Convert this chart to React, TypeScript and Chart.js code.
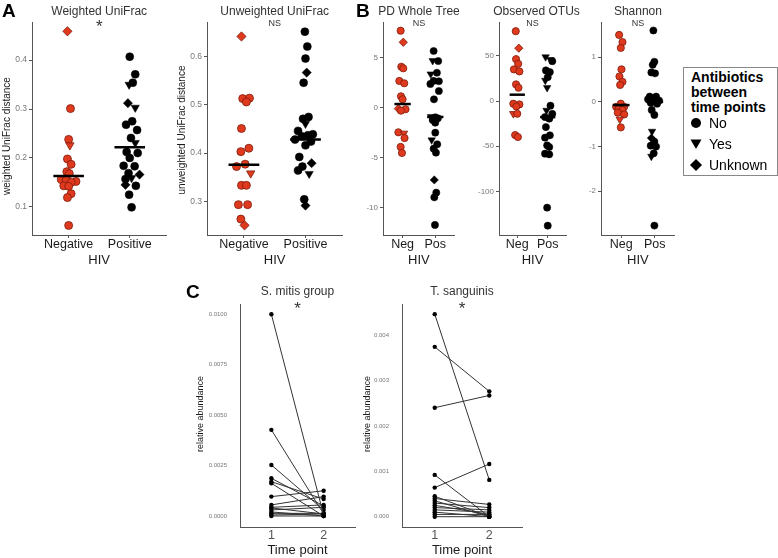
import React, { useEffect, useRef } from "react";
import { Chart, registerables } from "chart.js";
Chart.register(...registerables);

const FONT = "'Liberation Sans', Arial, Helvetica, sans-serif";
Chart.defaults.font.family = FONT;

// ---------- Panel A: Weighted UniFrac ----------
const wuNegVals = [0.459, 0.301, 0.238, 0.226, 0.198, 0.187, 0.172, 0.168, 0.156, 0.152, 0.155, 0.150, 0.143, 0.142, 0.127, 0.119, 0.062];
const wuNegJit = [-0.02, 0.03, 0, 0.02, -0.02, 0.04, -0.03, 0.01, -0.12, 0.12, -0.04, 0.04, -0.08, 0.0, 0.04, -0.02, 0];
const wuNegShape = "doovoooooooooooood";
const wuPosVals = [0.407, 0.371, 0.354, 0.350, 0.312, 0.303, 0.275, 0.268, 0.257, 0.241, 0.231, 0.212, 0.210, 0.200, 0.184, 0.183, 0.169, 0.166, 0.159, 0.157, 0.145, 0.143, 0.125, 0.099];
const wuPosJit = [0, 0.09, 0.05, -0.01, -0.03, 0.09, 0.04, -0.06, 0.12, 0.02, 0.09, -0.05, 0.13, 0, -0.1, 0.08, -0.02, 0.16, 0.03, -0.07, -0.07, 0.1, -0.01, 0.03];
const wuPosShape = "ooovdvoooovoooooodvodooo";
const wuMedians = [0.163, 0.222];
const wuTicks = [0.1, 0.2, 0.3, 0.4];

// ---------- Panel A: Unweighted UniFrac ----------
const uuNegVals = [0.642, 0.513, 0.514, 0.506, 0.451, 0.410, 0.403, 0.377, 0.372, 0.358, 0.333, 0.333, 0.293, 0.293, 0.263, 0.250];
const uuNegJit = [-0.04, -0.02, 0.09, 0.04, -0.04, 0.08, -0.05, 0.02, -0.12, 0.11, -0.04, 0.04, -0.09, 0.06, -0.05, 0.01];
const uuNegShape = "doooooooovooooodo";
const uuPosVals = [0.652, 0.621, 0.596, 0.567, 0.546, 0.475, 0.471, 0.461, 0.446, 0.439, 0.437, 0.435, 0.428, 0.424, 0.416, 0.392, 0.379, 0.372, 0.364, 0.357, 0.304, 0.291];
const uuPosJit = [-0.01, 0.03, 0, 0.02, -0.03, 0.05, -0.04, 0, -0.12, 0.12, 0.04, -0.06, -0.17, 0.09, 0, -0.1, 0.1, -0.05, -0.12, 0.06, -0.02, 0];
const uuPosShape = "ooodooovoooooooodoovodo";
const uuMedians = [0.376, 0.428];
const uuTicks = [0.3, 0.4, 0.5, 0.6];

// ---------- Panel B: PD Whole Tree ----------
const pdNegVals = [7.65, 6.5, 4.06, 3.9, 2.64, 2.41, 1.11, 0.81, -0.12, -0.18, -0.32, -2.48, -2.58, -3.05, -3.94, -4.54];
const pdNegJit = [-0.06, 0.02, -0.04, 0.02, -0.1, 0.05, -0.05, 0, -0.13, 0.09, -0.05, -0.13, 0.04, 0.06, -0.06, -0.02];
const pdNegShape = "odoooooodooovoooo";
const pdPosVals = [5.63, 4.66, 4.63, 3.46, 3.33, 2.64, 2.34, 2.61, 1.64, 0.81, -0.92, -0.98, -1.08, -1.25, -1.52, -2.52, -3.25, -3.67, -4.11, -4.51, -7.23, -8.5, -8.96, -11.72];
const pdPosJit = [-0.05, -0.08, 0.09, 0.05, -0.14, -0.05, -0.15, 0.11, 0.11, -0.04, -0.13, 0, 0.08, -0.08, 0, 0, -0.11, 0.06, -0.05, 0.02, -0.03, 0.03, -0.03, -0.01];
const pdPosShape = "ovoovooooovooooovooodoooo";
const pdMedians = [0.34, -0.95];
const pdTicks = [-10, -5, 0, 5];

// ---------- Panel B: Observed OTUs ----------
const otuNegVals = [77.4, 58.6, 46.5, 41.3, 35.1, 32.9, 18.5, 14.8, -2.9, -3.7, -5.9, -14, -14, -37.6, -39.8];
const otuNegJit = [-0.05, 0.05, -0.04, 0.03, -0.11, 0.07, -0.04, 0.04, -0.13, 0.07, -0.03, -0.13, 0, -0.07, 0.02];
const otuNegShape = "odooooooooovooo";
const otuPosVals = [48.9, 45.8, 44.2, 34, 32.1, 26.5, 22.9, 14.8, -5.1, -10.3, -14, -17.7, -19.5, -17.7, -28.8, -37.9, -40.5, -49, -50.9, -58.2, -59, -118, -138];
const otuPosJit = [-0.07, 0.09, 0.15, -0.06, 0.07, 0, -0.08, -0.02, 0.09, -0.04, 0.15, -0.09, 0.05, 0.12, -0.06, 0.07, -0.09, -0.02, 0.05, -0.09, 0.05, -0.02, 0];
const otuPosShape = "vvoooovvovooovooooooooo";
const otuMedians = [7.1, -17.7];
const otuTicks = [-100, -50, 0, 50];

// ---------- Panel B: Shannon ----------
const shNegVals = [1.50, 1.34, 1.21, 0.73, 0.57, 0.45, 0.38, -0.04, -0.11, -0.11, -0.16, -0.18, -0.24, -0.28, -0.39, -0.57];
const shNegJit = [-0.06, 0.04, -0.01, 0.01, -0.05, 0.04, -0.03, -0.01, -0.15, 0.09, -0.08, 0.04, -0.1, 0.09, -0.04, -0.01];
const shNegShape = "oooooooooooooovo";
const shPosVals = [1.60, 0.90, 0.83, 0.66, 0.64, 0.12, 0.12, 0.06, 0.04, 0.03, -0.02, -0.04, -0.18, -0.29, -0.66, -0.81, -0.89, -0.98, -1.00, -1.15, -1.22, -2.77];
const shPosJit = [-0.04, -0.01, -0.06, -0.1, 0.01, -0.15, 0.04, -0.2, -0.03, 0.13, -0.12, 0.07, -0.09, -0.01, -0.08, -0.1, -0.01, -0.12, 0.04, -0.03, -0.1, -0.01];
const shPosShape = "oooooooooooooovdoooovoo";
const shMedians = [-0.07, 0.0];
const shTicks = [-2, -1, 0, 1];

// ---------- Panel C: paired time points ----------
const mitisT1 = [0.0100, 0.00427, 0.00253, 0.00187, 0.0017, 0.00162, 0.00096, 0.00055, 0.00043, 0.0004, 0.0003, 0.0002, 0.00013, 0.00005, 0.0];
const mitisT2 = [0.00005, 0.0001, 0.0003, 0.0005, 0.00084, 0.0, 0.00125, 0.00096, 0.00055, 0.0001, 0.00043, 0.0, 0.00013, 0.0001, 0.0];
const mitisTicks = [0, 0.0025, 0.005, 0.0075, 0.01];
const sangT1 = [0.00446, 0.00374, 0.0024, 0.00092, 0.00064, 0.00045, 0.0004, 0.00035, 0.0003, 0.00025, 0.0002, 0.00015, 0.0001, 0.00005, 0.0];
const sangT2 = [0.00081, 0.00276, 0.00267, 0.0, 0.00116, 0.0, 0.00027, 0.0, 0.0002, 0.00005, 0.00015, 0.0001, 0.0, 0.00005, 0.0];
const sangTicks = [0, 0.001, 0.002, 0.003, 0.004];

const hivLong = ["Negative", "Positive"];
const hivShort = ["Neg", "Pos"];
const timeLabels = ["1", "2"];
const legendItems = ["No", "Yes", "Unknown"];

const RED = "#e03a1e";
const RED_EDGE = "#7e1a0b";
const AXIS = "#555555";

function groupSets(center: number, vals: number[], jit: number[], shapes: string, med: number, red: boolean, r: number) {
  const sh = shapes.split("").slice(0, vals.length);
  return [
    {
      data: [{ x: center - 0.25, y: med }, { x: center + 0.25, y: med }],
      showLine: true, borderColor: "#000", borderWidth: 2.5, pointRadius: 0, order: 0,
    },
    {
      data: vals.map((v, i) => ({ x: center + (jit[i] || 0), y: v })),
      pointStyle: sh.map((s) => (s === "v" ? "triangle" : s === "d" ? "rectRot" : "circle")),
      rotation: sh.map((s) => (s === "v" ? 180 : 0)),
      pointRadius: sh.map((s) => (s === "v" ? r * 1.2 : s === "d" ? r * 1.15 : r)),
      backgroundColor: red ? RED : "#000",
      borderColor: red ? RED_EDGE : "#000",
      borderWidth: red ? 0.8 : 0.5,
      order: 1,
    },
  ];
}

function pairSets(t1: number[], t2: number[]) {
  return t1.map((v, i) => ({
    data: [{ x: 1, y: v }, { x: 2, y: t2[i] }],
    showLine: true, borderColor: "#333", borderWidth: 1,
    pointRadius: 2.2, backgroundColor: "#000", pointBorderWidth: 0,
  }));
}

type Cfg = any;

function annot(cfg: Cfg) {
  return {
    id: "annot",
    afterDraw(chart: any) {
      const ctx = chart.ctx;
      const ca = chart.chartArea;
      const cx = (ca.left + ca.right) / 2;
      ctx.save();
      ctx.textAlign = "center";
      ctx.textBaseline = "middle";
      ctx.fillStyle = "#333";
      ctx.font = `${cfg.titleFont}px ${FONT}`;
      ctx.fillText(cfg.title, cx + (cfg.titleDx || 0), cfg.titleY - cfg.T);
      ctx.font = `${cfg.sigFont}px ${FONT}`;
      ctx.fillText(cfg.sig, cx, cfg.sigY - cfg.T);
      ctx.fillStyle = "#1a1a1a";
      ctx.font = `${cfg.xTitleFont}px ${FONT}`;
      ctx.fillText(cfg.xTitle, cx, cfg.xTitleY - cfg.T);
      if (cfg.yTitle) {
        ctx.translate(cfg.yTitleX - cfg.L, cfg.yTitleY - cfg.T);
        ctx.rotate(-Math.PI / 2);
        ctx.font = `${cfg.yTitleFont}px ${FONT}`;
        ctx.fillStyle = "#1a1a1a";
        ctx.fillText(cfg.yTitle, 0, 0);
      }
      ctx.restore();
    },
  };
}

function Panel({ cfg }: { cfg: Cfg }) {
  const ref = useRef<HTMLCanvasElement>(null);
  useEffect(() => {
    const c = ref.current!;
    const chart = new Chart(c, {
      type: "scatter",
      data: { datasets: cfg.datasets },
      options: {
        animation: false,
        responsive: false,
        devicePixelRatio: 1,
        events: [],
        layout: { padding: { left: 0, top: cfg.y0 - cfg.T, right: cfg.L + cfg.W - cfg.x1, bottom: 0 } },
        plugins: { legend: { display: false }, tooltip: { enabled: false } },
        scales: {
          x: {
            type: "linear", min: 0.4, max: 2.6,
            afterFit: (s: any) => { s.height = cfg.T + cfg.H - cfg.y1; },
            afterBuildTicks: (s: any) => { s.ticks = [1, 2].map((v) => ({ value: v })); },
            ticks: {
              callback: (_v: any, i: number) => cfg.xLabels[i],
              font: { size: cfg.xTickFont }, color: cfg.xTickColor,
              padding: cfg.xTickPad, maxRotation: 0, autoSkip: false,
            },
            grid: { display: true, drawOnChartArea: false, drawTicks: cfg.xTicksOn, tickLength: 3, color: AXIS },
            border: { display: true, color: AXIS, width: 1 },
          },
          y: {
            type: "linear", min: cfg.ymin, max: cfg.ymax,
            afterFit: (s: any) => { s.width = cfg.x0 - cfg.L; },
            afterBuildTicks: (s: any) => { s.ticks = cfg.yTicks.map((v: number) => ({ value: v })); },
            ticks: {
              callback: (v: any) => cfg.yFmt(Number(v)),
              font: { size: cfg.yTickFont }, color: "#777",
              padding: cfg.yTickPad, autoSkip: false,
            },
            grid: { display: true, drawOnChartArea: false, drawTicks: cfg.yTicksOn, tickLength: 3, color: AXIS },
            border: { display: true, color: AXIS, width: 1 },
          },
        },
      } as any,
      plugins: [annot(cfg)],
    });
    return () => chart.destroy();
  }, []);
  return (
    <canvas
      ref={ref}
      width={cfg.W}
      height={cfg.H}
      style={{ position: "absolute", left: cfg.L, top: cfg.T, width: cfg.W, height: cfg.H }}
    />
  );
}

const fmt = (d: number) => (v: number) => v.toFixed(d);
const fmtInt = (v: number) => String(Math.round(v));

const topRow = { T: 0, H: 275, y0: 22, y1: 235, titleY: 12, sigY: 24, titleFont: 12, xTitle: "HIV", xTitleY: 260, xTitleFont: 13, xTickFont: 12.5, xTickColor: "#1a1a1a", xTickPad: -1, xTicksOn: true, yTicksOn: true, yTickPad: 2 };
const botRow = { T: 280, H: 278, y0: 304, y1: 527, titleY: 292, sigY: 309, titleFont: 12, sig: "*", sigFont: 17, xTitle: "Time point", xTitleY: 550, xTitleFont: 13, xTickFont: 12.5, xTickColor: "#555", xTickPad: 1, xTicksOn: false, yTicksOn: false, yTickPad: 13, yTickFont: 6, xLabels: timeLabels, yTitle: "relative abundance", yTitleFont: 9, yTitleY: 414 };

const panels: Cfg[] = [
  {
    ...topRow, key: "wu", L: 0, W: 172, x0: 32, x1: 167,
    ymin: 0.0425, ymax: 0.478, yTicks: wuTicks, yFmt: fmt(1), yTickFont: 8.5,
    title: "Weighted UniFrac", sig: "*", sigFont: 17, sigY: 27,
    xLabels: hivLong, yTitle: "weighted UniFrac distance", yTitleX: 7, yTitleY: 136, yTitleFont: 10,
    datasets: [
      ...groupSets(1, wuNegVals, wuNegJit, wuNegShape, wuMedians[0], true, 4),
      ...groupSets(2, wuPosVals, wuPosJit, wuPosShape, wuMedians[1], false, 4),
    ],
  },
  {
    ...topRow, key: "uu", L: 172, W: 176, x0: 207, x1: 343,
    ymin: 0.23, ymax: 0.672, yTicks: uuTicks, yFmt: fmt(1), yTickFont: 8.5,
    title: "Unweighted UniFrac", sig: "NS", sigFont: 9,
    xLabels: hivLong, yTitle: "unweighted UniFrac distance", yTitleX: 182.5, yTitleY: 130, yTitleFont: 10,
    datasets: [
      ...groupSets(1, uuNegVals, uuNegJit, uuNegShape, uuMedians[0], true, 4),
      ...groupSets(2, uuPosVals, uuPosJit, uuPosShape, uuMedians[1], false, 4),
    ],
  },
  {
    ...topRow, key: "pd", L: 348, W: 112, x0: 383, x1: 456,
    ymin: -12.72, ymax: 8.52, yTicks: pdTicks, yFmt: fmtInt, yTickFont: 8,
    title: "PD Whole Tree", sig: "NS", sigFont: 9, xLabels: hivShort,
    datasets: [
      ...groupSets(1, pdNegVals, pdNegJit, pdNegShape, pdMedians[0], true, 3.6),
      ...groupSets(2, pdPosVals, pdPosJit, pdPosShape, pdMedians[1], false, 3.6),
    ],
  },
  {
    ...topRow, key: "otu", L: 462, W: 118, x0: 499, x1: 566,
    ymin: -148.3, ymax: 87.6, yTicks: otuTicks, yFmt: fmtInt, yTickFont: 8,
    title: "Observed OTUs", sig: "NS", sigFont: 9, titleDx: 4, xLabels: hivShort,
    datasets: [
      ...groupSets(1, otuNegVals, otuNegJit, otuNegShape, otuMedians[0], true, 3.6),
      ...groupSets(2, otuPosVals, otuPosJit, otuPosShape, otuMedians[1], false, 3.6),
    ],
  },
  {
    ...topRow, key: "sh", L: 572, W: 108, x0: 601, x1: 678,
    ymin: -2.98, ymax: 1.79, yTicks: shTicks, yFmt: fmtInt, yTickFont: 8,
    title: "Shannon", sig: "NS", sigFont: 9, xLabels: hivShort,
    datasets: [
      ...groupSets(1, shNegVals, shNegJit, shNegShape, shMedians[0], true, 3.6),
      ...groupSets(2, shPosVals, shPosJit, shPosShape, shMedians[1], false, 3.6),
    ],
  },
  {
    ...botRow, key: "mitis", L: 180, W: 180, x0: 240, x1: 355,
    ymin: -0.000546, ymax: 0.01051, yTicks: mitisTicks, yFmt: fmt(4),
    title: "S. mitis group", yTitleX: 200.7,
    datasets: pairSets(mitisT1, mitisT2),
  },
  {
    ...botRow, key: "sang", L: 362, W: 165, x0: 402, x1: 522,
    ymin: -0.000227, ymax: 0.004683, yTicks: sangTicks, yFmt: fmt(3),
    title: "T. sanguinis", yTitleX: 367.7,
    datasets: pairSets(sangT1, sangT2),
  },
];

function LegendSym({ kind }: { kind: string }) {
  return (
    <svg width={12} height={12} style={{ position: "absolute", left: 6, top: -6 }}>
      {kind === "No" && <circle cx={6} cy={6} r={5} fill="#000" />}
      {kind === "Yes" && <polygon points="0.5,1.5 11.5,1.5 6,11" fill="#000" />}
      {kind === "Unknown" && <polygon points="6,0 12,6 6,12 0,6" fill="#000" />}
    </svg>
  );
}

const letterStyle: React.CSSProperties = {
  position: "absolute", fontFamily: FONT, fontWeight: "bold", fontSize: 19, lineHeight: "19px", color: "#000",
};

export default function App() {
  return (
    <div style={{ position: "fixed", left: 0, top: 0, width: 778, height: 558, background: "#fff", overflow: "hidden" }}>
      {panels.map((p) => <Panel key={p.key} cfg={p} />)}
      <div style={{ ...letterStyle, left: 2, top: 1 }}>A</div>
      <div style={{ ...letterStyle, left: 356, top: 1 }}>B</div>
      <div style={{ ...letterStyle, left: 186, top: 282 }}>C</div>
      <div style={{ position: "absolute", left: 683, top: 67, width: 93, height: 107, border: "1px solid #888", fontFamily: FONT, background: "#fff" }}>
        <div style={{ position: "absolute", left: 7, top: 2, fontWeight: "bold", fontSize: 14, lineHeight: "15px", color: "#000" }}>
          Antibiotics<br />between<br />time points
        </div>
        {legendItems.map((it, i) => (
          <div key={it} style={{ position: "absolute", left: 0, top: 55 + i * 20.8, height: 0 }}>
            <LegendSym kind={it} />
            <span style={{ position: "absolute", left: 25, top: -8, fontSize: 14, lineHeight: "16px", whiteSpace: "nowrap", color: "#000" }}>{it}</span>
          </div>
        ))}
      </div>
    </div>
  );
}
